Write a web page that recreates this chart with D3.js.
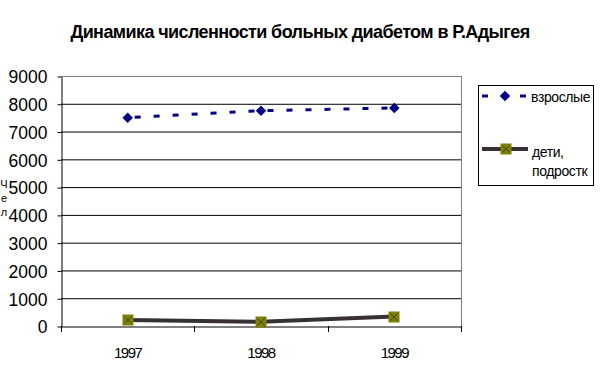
<!DOCTYPE html>
<html>
<head>
<meta charset="utf-8">
<script src="https://cdn.jsdelivr.net/npm/d3@7"></script>
<style>
  body { margin: 0; background: #fff; }
  text { font-family: "Liberation Sans", Arial, sans-serif; }
</style>
</head>
<body>
<div id="main"></div>
<script>
'use strict'

// data
let years = ["1997", "1998", "1999"];
let adults = [7500, 7750, 7850];
let children = [220, 150, 340];
let yTicks = [0, 1000, 2000, 3000, 4000, 5000, 6000, 7000, 8000, 9000];
let seriesNames = ["взрослые", "дети,", "подростк"];

drawLineChart();

function drawLineChart(){
  let svgWidth = 601;
  let svgHeight = 379;
  let left = 61, right = 461, top = 76, bottom = 326;

  let svg = d3.select('#main')
    .append('svg')
    .attr('width', svgWidth)
    .attr('height', svgHeight);

  svg.append('rect').attr('width', svgWidth).attr('height', svgHeight).attr('fill', '#fff');

  // title
  svg.append('text')
    .text('Динамика численности больных диабетом в Р.Адыгея')
    .attr('x', 300)
    .attr('y', 38)
    .attr('text-anchor', 'middle')
    .attr('font-size', '18px')
    .attr('font-weight', 'bold')
    .attr('letter-spacing', '-0.6px');

  //scales
  let xScale = d3.scaleBand().domain(years).range([left, right]);
  let yScale = d3.scaleLinear().domain([0, 9000]).range([bottom, top]);

  // gridlines
  svg.append('g')
    .selectAll('line')
    .data(yTicks.filter(d => d > 0))
    .enter()
    .append('line')
    .attr('x1', left)
    .attr('x2', right)
    .attr('y1', d => yScale(d) + 0.5)
    .attr('y2', d => yScale(d) + 0.5)
    .attr('stroke', d => d === 9000 ? '#808080' : '#000')
    .attr('stroke-width', 1);

  // right border
  svg.append('line')
    .attr('x1', right + 0.5).attr('x2', right + 0.5)
    .attr('y1', top).attr('y2', bottom)
    .attr('stroke', '#808080');

  // y axis
  const yAxis = d3.axisLeft(yScale).tickValues(yTicks).tickFormat(d3.format('d')).tickSize(4).tickSizeOuter(0);
  let gy = svg.append('g')
    .attr('transform', 'translate(' + (left + 0.5) + ', 0.5)')
    .call(yAxis);
  gy.select('.domain').attr('stroke', '#000');
  gy.selectAll('text')
    .attr('font-size', '17.5px')
    .attr('fill', '#000')
    .attr('x', -14)
    .attr('dy', '0.36em')
    .attr('font-family', '"Liberation Sans", Arial, sans-serif');

  // x axis, ticks between categories
  const xAxis = d3.axisBottom(xScale).tickSize(0).tickSizeOuter(0);
  let gx = svg.append('g')
    .attr('transform', 'translate(0, ' + (bottom + 0.5) + ')')
    .call(xAxis);
  gx.select('.domain').attr('stroke', '#000');
  gx.selectAll('text')
    .attr('font-size', '15px')
    .attr('letter-spacing', '-1.5px')
    .attr('fill', '#000')
    .attr('dy', 0)
    .attr('y', 31.5)
    .attr('font-family', '"Liberation Sans", Arial, sans-serif');
  let boundaries = years.map(d => xScale(d)).concat([xScale.range()[1]]);
  svg.append('g')
    .selectAll('line')
    .data(boundaries)
    .enter()
    .append('line')
    .attr('x1', d => Math.round(d) + 0.5)
    .attr('x2', d => Math.round(d) + 0.5)
    .attr('y1', bottom)
    .attr('y2', bottom + 6)
    .attr('stroke', '#000');

  // y axis title, stacked letters
  svg.append('g')
    .selectAll('text')
    .data(['Ч', 'е', 'л'])
    .enter()
    .append('text')
    .text(d => d)
    .attr('x', 4)
    .attr('y', (d, i) => 188 + i * 14)
    .attr('text-anchor', 'middle')
    .attr('font-size', '11px');

  let cx = d => xScale(d) + xScale.bandwidth() / 2;

  // adults line
  let seriesLine = d3.line().x((d, i) => cx(years[i])).y(d => yScale(d));
  svg.append('path')
    .datum(adults)
    .attr('d', seriesLine)
    .attr('fill', 'none')
    .attr('stroke', '#000080')
    .attr('stroke-width', 3)
    .attr('stroke-dasharray', '6,13')
    .attr('stroke-dashoffset', -7);

  // children line
  svg.append('path')
    .datum(children)
    .attr('d', seriesLine)
    .attr('fill', 'none')
    .attr('stroke', '#373137')
    .attr('stroke-width', 4);

  let diamond = d3.symbol().type(d3.symbolDiamond2).size(70);

  svg.append('g')
    .selectAll('path')
    .data(adults)
    .enter()
    .append('path')
    .attr('d', diamond)
    .attr('transform', (d, i) => 'translate(' + cx(years[i]) + ',' + yScale(d) + ')')
    .attr('fill', '#000080');

  let sq = svg.append('g')
    .selectAll('g')
    .data(children)
    .enter()
    .append('g')
    .attr('transform', (d, i) => 'translate(' + Math.round(cx(years[i])) + ',' + Math.round(yScale(d)) + ')');
  drawSquareMarker(sq);

  // legend
  let legend = svg.append('g');
  legend.append('rect')
    .attr('x', 478.5).attr('y', 85.5)
    .attr('width', 115).attr('height', 100)
    .attr('fill', '#fff')
    .attr('stroke', '#000');

  legend.append('line')
    .attr('x1', 482).attr('x2', 528)
    .attr('y1', 96).attr('y2', 96)
    .attr('stroke', '#000080')
    .attr('stroke-width', 3)
    .attr('stroke-dasharray', '6,13')
    .attr('stroke-dashoffset', 0);
  legend.append('path')
    .attr('d', diamond)
    .attr('transform', 'translate(505,96)')
    .attr('fill', '#000080');
  legend.append('text')
    .text(seriesNames[0])
    .attr('x', 531).attr('y', 102)
    .attr('font-size', '14px')
    .attr('letter-spacing', '-0.4px');

  legend.append('line')
    .attr('x1', 482).attr('x2', 528)
    .attr('y1', 149).attr('y2', 149)
    .attr('stroke', '#373137')
    .attr('stroke-width', 4);
  let lsq = legend.append('g').attr('transform', 'translate(506,149)');
  drawSquareMarker(lsq);
  legend.append('text')
    .text(seriesNames[1])
    .attr('x', 532).attr('y', 157)
    .attr('font-size', '14px')
    .attr('letter-spacing', '-0.4px');
  legend.append('text')
    .text(seriesNames[2])
    .attr('x', 532).attr('y', 176)
    .attr('font-size', '14px')
    .attr('letter-spacing', '-0.4px');
}

function drawSquareMarker(sel){
  sel.append('rect')
    .attr('x', -5.5).attr('y', -5.5)
    .attr('width', 11).attr('height', 11)
    .attr('fill', '#808000');
  sel.append('path')
    .attr('d', 'M-3.5,-3.5L3.5,3.5M-3.5,3.5L3.5,-3.5')
    .attr('stroke', '#333')
    .attr('stroke-width', 0.8);
}
</script>
</body>
</html>
